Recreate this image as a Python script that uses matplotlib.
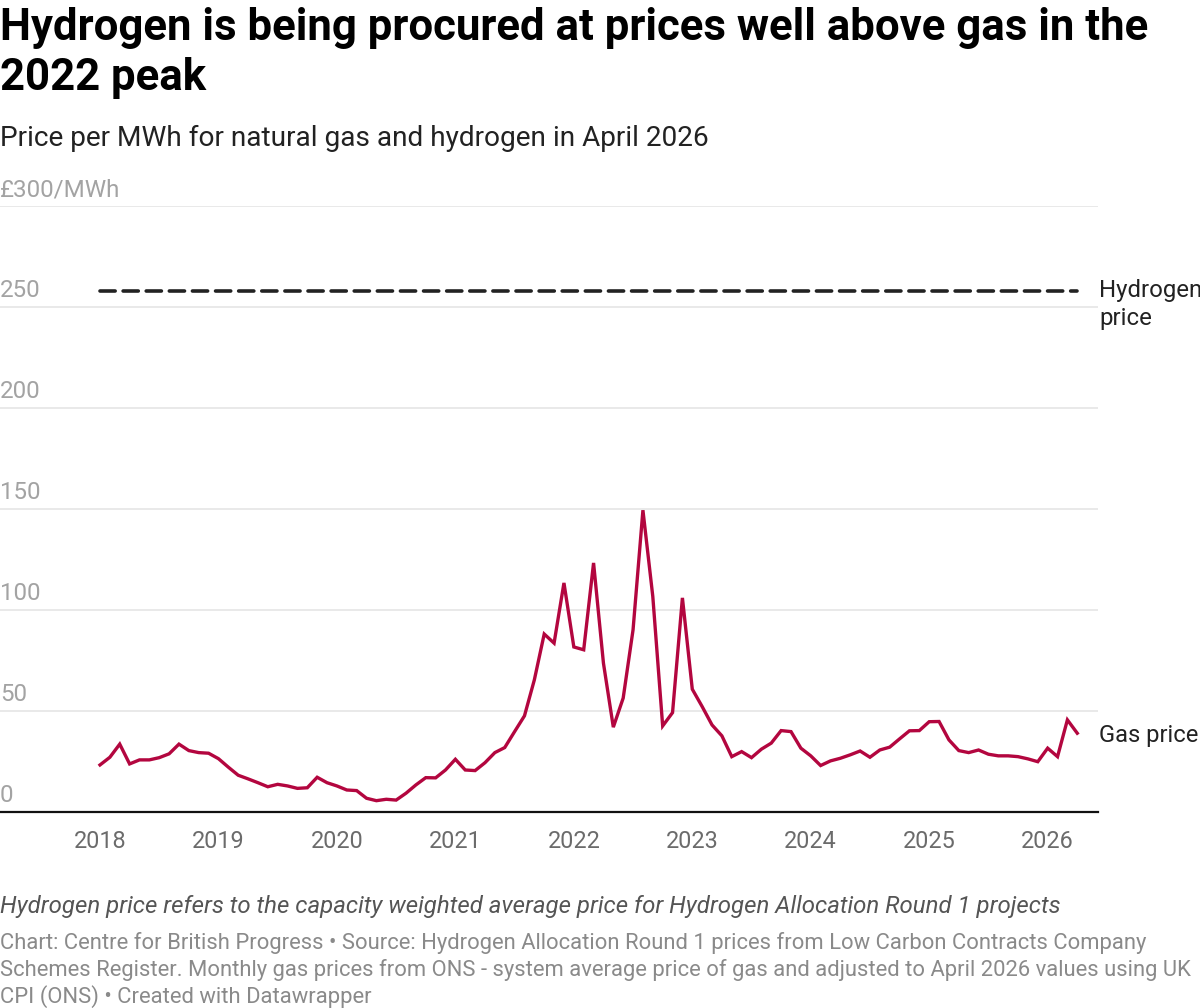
import numpy as np
import matplotlib.pyplot as plt

plt.rcParams['font.family'] = ['Roboto', 'DejaVu Sans']

# --- DATA ---
# monthly gas price, £/MWh (April 2026 prices), Jan 2018 .. Apr 2026
gas_price = [
    23.3, 27.1, 33.6, 23.8, 25.8, 25.8, 26.9, 28.8, 33.6, 30.4, 29.4, 29.1,   # 2018
    26.4, 22.2, 18.2, 16.4, 14.5, 12.5, 13.7, 12.9, 11.7, 12.0, 17.2, 14.5,   # 2019
    12.9, 10.9, 10.6, 6.8, 5.6, 6.3, 5.9, 9.3, 13.4, 17.0, 16.9, 20.8,        # 2020
    26.1, 20.8, 20.5, 24.4, 29.4, 31.9, 39.8, 47.6, 65.4, 88.1, 83.6, 113.4,  # 2021
    81.7, 80.3, 123.3, 73.7, 42.0, 56.4, 90.2, 149.4, 106.7, 42.6, 49.2, 106.0,  # 2022
    60.8, 52.2, 43.1, 37.7, 27.4, 29.9, 26.9, 31.1, 34.1, 40.3, 39.8, 31.6,   # 2023
    27.8, 23.0, 25.3, 26.6, 28.3, 30.2, 27.1, 30.7, 32.1, 36.2, 40.2, 40.3,   # 2024
    44.7, 44.8, 35.7, 30.4, 29.4, 30.7, 28.6, 27.8, 27.8, 27.4, 26.3, 24.9,   # 2025
    31.6, 27.4, 45.6, 39.0,                                                   # 2026
]
hydrogen_price = 258.0
years = list(range(2018, 2027))
y_ticks = [0, 50, 100, 150, 200, 250, 300]
y_labels = ['0', '50', '100', '150', '200', '250', '£300/MWh']

GAS_COLOR = '#b3063f'
W, H = 1200, 1008

fig = plt.figure(figsize=(W / 100, H / 100), dpi=100)
ax = fig.add_axes([0, (H - 812) / H, 1098 / W, (812 - 206) / H])

months = np.arange(len(gas_price))
ax.plot(months, gas_price, color=GAS_COLOR, lw=2.4, solid_joinstyle='miter', zorder=3)
ax.plot([0, len(gas_price) - 1], [hydrogen_price, hydrogen_price], color='#222222',
        lw=2.6, dashes=(4.2, 2.2), dash_capstyle='round', zorder=3)

ax.set_xlim(-10.13, 101.1)
ax.set_ylim(0, 300)

# grid + axis
for v in y_ticks[1:]:
    ax.axhline(v, color='#e3e3e3', lw=1.1, zorder=1)
for s in ['top', 'right', 'left']:
    ax.spines[s].set_visible(False)
ax.spines['bottom'].set_color('#111111')
ax.spines['bottom'].set_linewidth(1.6)
ax.spines['bottom'].set_zorder(4)

ax.set_yticks([])
ax.set_xticks([12 * i for i in range(len(years))])
ax.set_xticklabels([str(y) for y in years], fontsize=16.8, color='#6b6b6b')
ax.tick_params(axis='x', length=0, pad=13)

# y labels sit above grid lines
for v, lab in zip(y_ticks, y_labels):
    ax.text(0, v + 4.8, lab, transform=ax.get_yaxis_transform(), ha='left', va='baseline',
            fontsize=17.4, color='#a3a3a3')

# series labels on the right
fig.text(1099 / W, 1 - 297 / H, 'Hydrogen', ha='left', va='baseline', fontsize=17.3,
         color='#222222')
fig.text(1099 / W, 1 - 325 / H, 'price', ha='left', va='baseline', fontsize=17.3,
         color='#222222')
fig.text(1099 / W, 1 - 742 / H, 'Gas price', ha='left', va='baseline', fontsize=17.1,
         color='#222222')

# titles
fig.text(0, 1 - 40 / H, 'Hydrogen is being procured at prices well above gas in the',
         ha='left', va='baseline', fontsize=31.5, fontweight='bold', color='#000000')
fig.text(0, 1 - 90 / H, '2022 peak', ha='left', va='baseline', fontsize=31.5,
         fontweight='bold', color='#000000')
fig.text(0, 1 - 146 / H, 'Price per MWh for natural gas and hydrogen in April 2026',
         ha='left', va='baseline', fontsize=20.2, color='#222222')

# notes
fig.text(0, 1 - 913 / H,
         'Hydrogen price refers to the capacity weighted average price for Hydrogen Allocation Round 1 projects',
         ha='left', va='baseline', fontsize=17.3, style='italic', color='#555555')
source_lines = [
    'Chart: Centre for British Progress • Source: Hydrogen Allocation Round 1 prices from Low Carbon Contracts Company',
    'Schemes Register. Monthly gas prices from ONS - system average price of gas and adjusted to April 2026 values using UK',
    'CPI (ONS) • Created with Datawrapper',
]
for i, line in enumerate(source_lines):
    fig.text(0, 1 - (949 + 27 * i) / H, line, ha='left', va='baseline', fontsize=15.85,
             color='#8a8a8a')

fig.savefig('out.png', dpi=100, facecolor='white')
